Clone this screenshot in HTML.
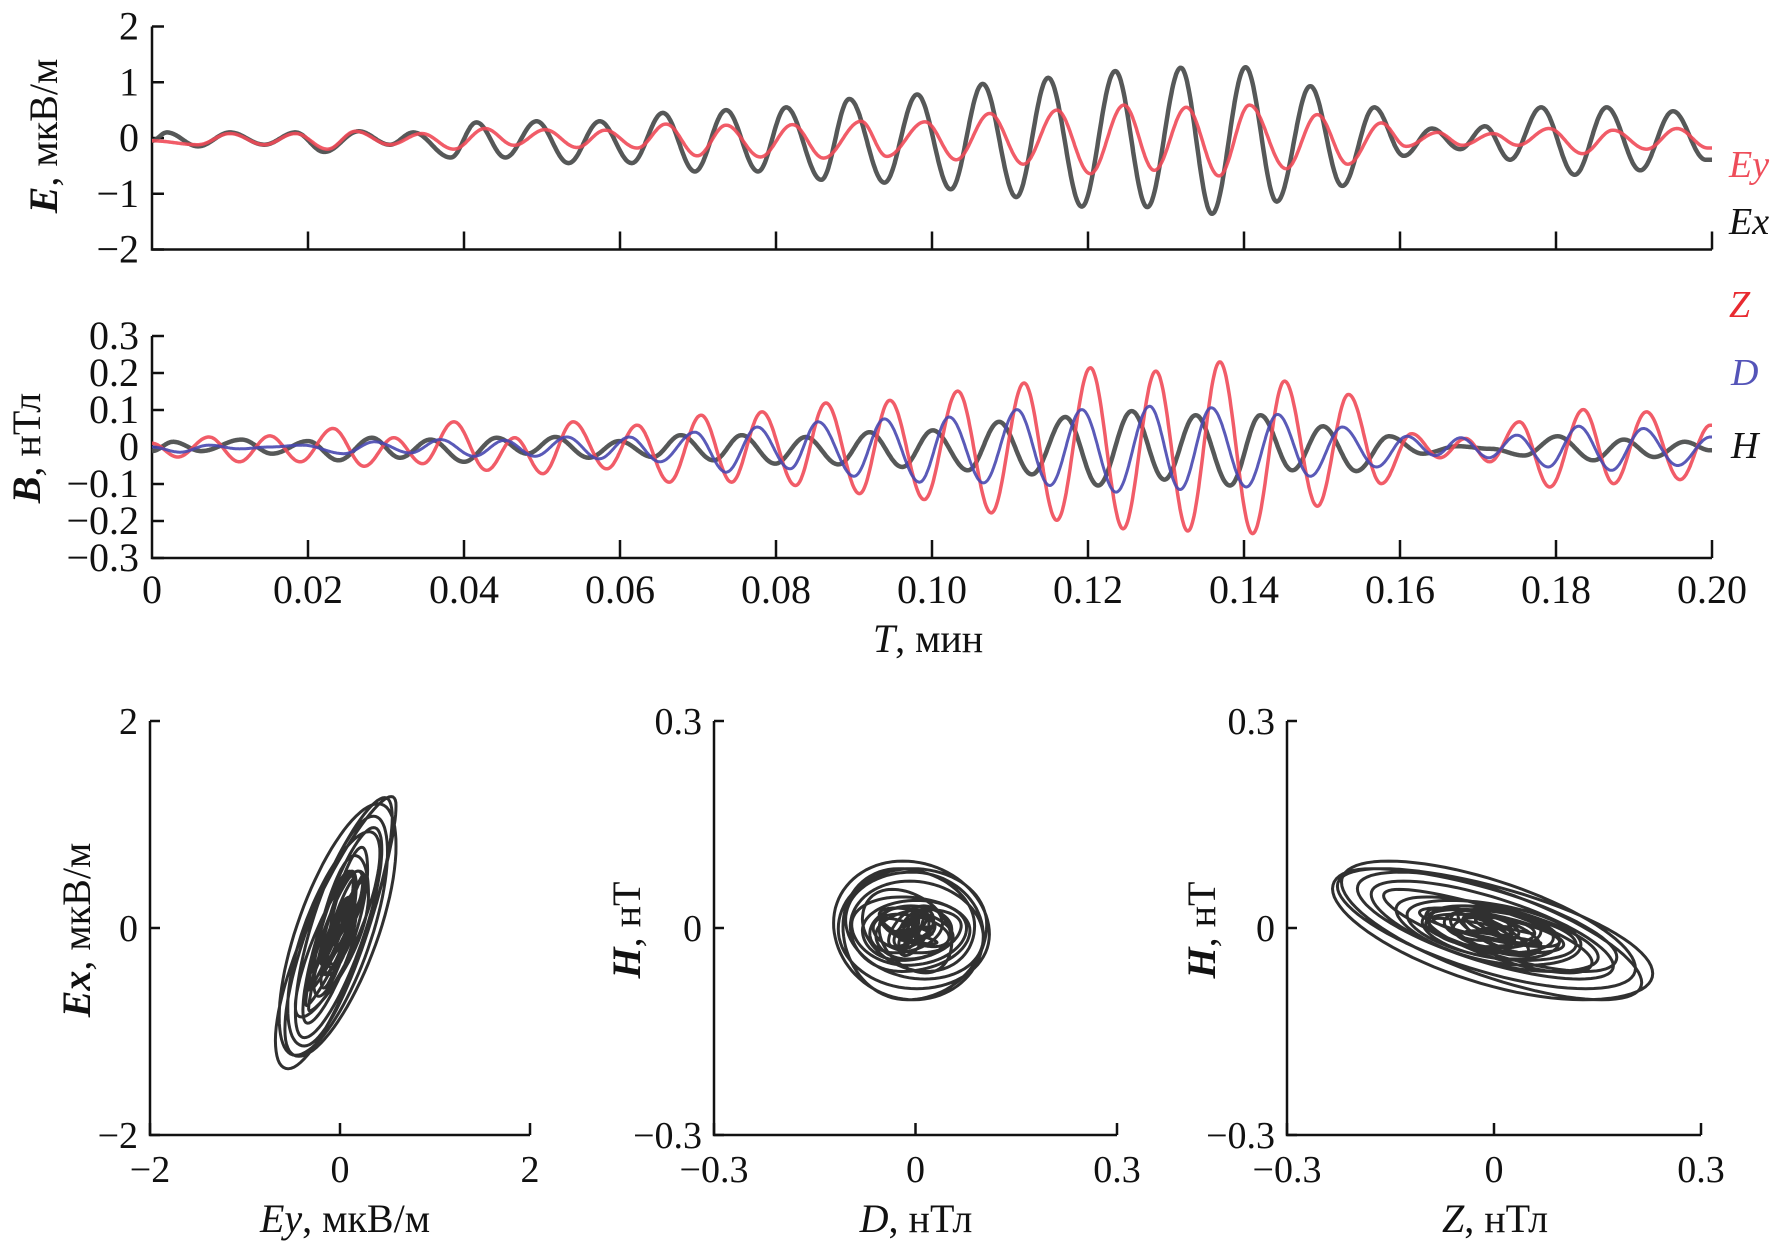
<!DOCTYPE html>
<html><head><meta charset="utf-8">
<style>
html,body{margin:0;padding:0;background:#fff;}
svg{display:block;}
svg text{font-family:"Liberation Serif","DejaVu Serif","Noto Serif CJK SC",serif;fill:#111;}
</style></head>
<body>
<svg id="chart" width="1778" height="1246" viewBox="0 0 1778 1246" xmlns="http://www.w3.org/2000/svg" font-family="Liberation Serif, DejaVu Serif, serif">
<rect x="0" y="0" width="1778" height="1246" fill="#fff"/>
<g id="axes"></g>
<g id="series"></g>
<g id="labels" font-family="Liberation Serif, DejaVu Serif, serif">
  <text transform="translate(57,136) rotate(-90)" text-anchor="middle" font-size="40"><tspan font-style="italic" font-weight="bold">E</tspan>, мкВ/м</text>
  <text transform="translate(40,448) rotate(-90)" text-anchor="middle" font-size="40"><tspan font-style="italic" font-weight="bold">B</tspan>, нТл</text>
  <text x="928" y="652" text-anchor="middle" font-size="40"><tspan font-style="italic">T</tspan>, мин</text>
  <text x="1729" y="177" font-size="38" font-style="italic" style="fill:#ee4d5a">Ey</text>
  <text x="1729" y="234" font-size="38" font-style="italic">Ex</text>
  <text x="1729" y="317" font-size="38" font-style="italic" style="fill:#e82a30">Z</text>
  <text x="1731" y="385" font-size="38" font-style="italic" style="fill:#5454b8">D</text>
  <text x="1731" y="458" font-size="38" font-style="italic">H</text>
  <text transform="translate(90,930) rotate(-90)" text-anchor="middle" font-size="40"><tspan font-style="italic" font-weight="bold">Ex</tspan>, мкВ/м</text>
  <text transform="translate(640,930) rotate(-90)" text-anchor="middle" font-size="40"><tspan font-style="italic" font-weight="bold">H</tspan>, нТ</text>
  <text transform="translate(1215,930) rotate(-90)" text-anchor="middle" font-size="40"><tspan font-style="italic" font-weight="bold">H</tspan>, нТ</text>
  <text x="345" y="1232" text-anchor="middle" font-size="40"><tspan font-style="italic">Ey</tspan>, мкВ/м</text>
  <text x="916" y="1232" text-anchor="middle" font-size="40"><tspan font-style="italic">D</tspan>, нТл</text>
  <text x="1495" y="1232" text-anchor="middle" font-size="40"><tspan font-style="italic">Z</tspan>, нТл</text>
</g>
</svg>
<script>
const exT=[0,.0019,.0059,.0100,.0144,.0184,.0221,.0265,.0305,.0335,.0383,.0416,.0453,.0493,.0534,.0574,.0615,.0655,.0696,.0736,.0777,.0813,.0858,.0894,.0939,.0981,.1024,.1065,.1108,.1149,.1192,.1235,.1276,.1319,.1359,.1402,.1442,.1485,.1526,.1567,.1605,.1641,.1677,.1709,.1741,.1781,.1824,.1865,.1908,.1950,.1992];
const exV=[-0.05,0.1,-0.15,0.1,-0.12,0.1,-0.25,0.12,-0.12,0.1,-0.35,0.28,-0.35,0.3,-0.45,0.3,-0.45,0.45,-0.6,0.5,-0.6,0.55,-0.75,0.7,-0.8,0.78,-0.92,0.97,-1.06,1.08,-1.23,1.2,-1.24,1.26,-1.36,1.27,-1.14,0.93,-0.86,0.55,-0.32,0.17,-0.2,0.21,-0.39,0.55,-0.66,0.55,-0.58,0.48,-0.39];
const eyT=[0,.0059,.0100,.0144,.0184,.0225,.0261,.0305,.0346,.0387,.0427,.0464,.0504,.0545,.0581,.0622,.0659,.0699,.0736,.0780,.0821,.0861,.0909,.0942,.0991,.1031,.1074,.1117,.1160,.1203,.1246,.1285,.1326,.1368,.1407,.1454,.1494,.1533,.1576,.1608,.1648,.1680,.1719,.1751,.1791,.1834,.1873,.1916,.1955,.1995];
const eyV=[-0.05,-0.12,0.08,-0.12,0.08,-0.2,0.12,-0.12,0.08,-0.2,0.17,-0.13,0.15,-0.17,0.14,-0.18,0.25,-0.32,0.23,-0.34,0.24,-0.36,0.3,-0.33,0.29,-0.39,0.44,-0.47,0.5,-0.64,0.59,-0.58,0.55,-0.68,0.59,-0.55,0.42,-0.47,0.27,-0.15,0.1,-0.13,0.08,-0.13,0.17,-0.28,0.14,-0.2,0.17,-0.18];
const zT=[0,.0033,.0073,.0112,.0151,.0190,.0232,.0272,.0310,.0347,.0387,.0429,.0465,.0501,.0540,.0583,.0622,.0663,.0704,.0743,.0782,.0825,.0864,.0907,.0946,.0990,.1033,.1076,.1118,.1160,.1203,.1245,.1287,.1328,.1369,.1411,.1452,.1494,.1534,.1576,.1615,.1651,.1684,.1715,.1753,.1792,.1835,.1874,.1916,.1959,.1998];
const zV=[0.01,-0.027,0.027,-0.04,0.03,-0.04,0.05,-0.052,0.025,-0.045,0.068,-0.063,0.025,-0.072,0.068,-0.059,0.059,-0.095,0.086,-0.095,0.095,-0.104,0.119,-0.126,0.126,-0.142,0.151,-0.178,0.173,-0.198,0.214,-0.221,0.205,-0.227,0.23,-0.234,0.178,-0.16,0.142,-0.099,0.036,-0.029,0.023,-0.04,0.068,-0.108,0.101,-0.099,0.095,-0.088,0.059];
const dT=[0,.0036,.0073,.0112,.0151,.0193,.0246,.0285,.0331,.0370,.0413,.0452,.0491,.0532,.0573,.0612,.0651,.0696,.0736,.0776,.0818,.0854,.0900,.0939,.0984,.1022,.1066,.1109,.1151,.1192,.1236,.1279,.1318,.1358,.1403,.1443,.1485,.1526,.1570,.1609,.1645,.1678,.1714,.1750,.1790,.1829,.1871,.1912,.1956,.1998];
const dV=[0,-0.014,0.005,-0.005,0,0.005,-0.018,0.014,-0.016,0.02,-0.025,0.018,-0.025,0.027,-0.032,0.027,-0.04,0.04,-0.068,0.054,-0.059,0.068,-0.079,0.076,-0.095,0.081,-0.097,0.101,-0.104,0.101,-0.122,0.11,-0.115,0.106,-0.108,0.088,-0.079,0.054,-0.054,0.029,-0.023,0.025,-0.029,0.032,-0.054,0.056,-0.063,0.05,-0.05,0.027];
const hT=[0,.0027,.0063,.0115,.0154,.0200,.0239,.0282,.0318,.0357,.0400,.0442,.0481,.0517,.0560,.0599,.0642,.0678,.0720,.0756,.0799,.0838,.0880,.0920,.0962,.1001,.1046,.1086,.1128,.1171,.1213,.1256,.1298,.1338,.1382,.1421,.1462,.1501,.1544,.1586,.1629,.1674,.1717,.1759,.1802,.1848,.1887,.1926,.1965,.1998];
const hV=[-0.011,0.014,-0.011,0.02,-0.018,0.016,-0.036,0.025,-0.029,0.02,-0.04,0.025,-0.018,0.027,-0.029,0.016,-0.027,0.032,-0.036,0.032,-0.045,0.027,-0.047,0.04,-0.054,0.045,-0.063,0.068,-0.074,0.081,-0.104,0.097,-0.088,0.086,-0.104,0.086,-0.063,0.056,-0.065,0.029,-0.018,0.002,-0.005,-0.023,0.029,-0.036,0.02,-0.027,0.014,-0.009];
const timeTicks=[0,0.02,0.04,0.06,0.08,0.10,0.12,0.14,0.16,0.18,0.20];
const timeTickLabels=["0","0.02","0.04","0.06","0.08","0.10","0.12","0.14","0.16","0.18","0.20"];
const eTicks=[2,1,0,-1,-2];
const eTickLabels=["2","1","0","\u22121","\u22122"];
const bTicks=[0.3,0.2,0.1,0,-0.1,-0.2,-0.3];
const bTickLabels=["0.3","0.2","0.1","0","\u22120.1","\u22120.2","\u22120.3"];
const exyTicks=[-2,0,2];
const exyTickLabels=["\u22122","0","2"];
const magTicks=[-0.3,0,0.3];
const magTickLabels=["\u22120.3","0","0.3"];

const NS="http://www.w3.org/2000/svg";
const FONT="Liberation Serif, DejaVu Serif, serif";
const axesG=document.getElementById('axes');
const serG=document.getElementById('series');
function mk(tag,attrs,parent){const e=document.createElementNS(NS,tag);for(const k in attrs)e.setAttribute(k,attrs[k]);if(tag==='text')e.setAttribute('font-family',FONT);parent.appendChild(e);return e;}
function interp(T,V,t){
  if(t<=T[0])return V[0];
  if(t>=T[T.length-1])return V[V.length-1];
  let i=0;while(i<T.length-2&&T[i+1]<t)i++;
  const u=(t-T[i])/(T[i+1]-T[i]);
  return V[i]+(V[i+1]-V[i])*(1-Math.cos(Math.PI*u))/2;
}
const tx=t=>152+(t-0)/(0.2)*1560;
const eY=v=>26.5+(2-v)/4*223;
const bY=v=>336+(0.3-v)/0.6*222;

function timePanel(yFn,top,bottom,ticks,labels,name){
  const ax=mk('path',{d:`M152 ${top}V${bottom}H1712`,stroke:'#111','stroke-width':2.5,fill:'none'},axesG);
  
  
  ticks.forEach((v,i)=>{
    const y=yFn(v);
    const tk=mk('line',{x1:152,x2:164,y1:y,y2:y,stroke:'#111','stroke-width':2.5},axesG);
    
    
    const tl=mk('text',{x:139,y:y+13,'text-anchor':'end','font-size':40},axesG);
    tl.textContent=labels[i];
    
    
  });
  timeTicks.forEach((t,i)=>{
    if(i===0)return;
    const x=tx(t);
    const tk=mk('line',{x1:x,x2:x,y1:bottom,y2:bottom-18,stroke:'#111','stroke-width':2.5},axesG);
    
    
  });
}
timePanel(eY,26.5,249.5,eTicks,eTickLabels,'e-panel');
timePanel(bY,336,558,bTicks,bTickLabels,'b-panel');
timeTicks.forEach((t,i)=>{
  const tl=mk('text',{x:tx(t),y:603,'text-anchor':'middle','font-size':40},axesG);
  tl.textContent=timeTickLabels[i];
  
  
});

function drawSeries(T,V,yFn,color,w,name,op){
  let d='';
  for(let t=0;t<=0.2000001;t+=0.0001){d+=(d?'L':'M')+tx(t).toFixed(1)+' '+yFn(interp(T,V,t)).toFixed(1);}
  const p=mk('path',{d:d,stroke:color,'stroke-width':w,fill:'none','stroke-linejoin':'round','stroke-opacity':op},serG);
  
  
}
drawSeries(exT,exV,eY,'#4d4f4f',4.5,'ex-line',0.95);
drawSeries(eyT,eyV,eY,'#f04a58',3.5,'ey-line',0.9);
drawSeries(hT,hV,bY,'#4d4f4f',4.5,'h-line',0.95);
drawSeries(zT,zV,bY,'#f04a58',3.5,'z-line',0.9);
drawSeries(dT,dV,bY,'#4848b0',3,'d-line',0.9);

function hodo(left,right,xr,yr,xticks,xlabels,ylabels,XT,XV,YT,YV,name){
  const top=721,bottom=1135;
  const sx=v=>left+(v+xr)/(2*xr)*(right-left);
  const sy=v=>top+(yr-v)/(2*yr)*(bottom-top);
  const ax=mk('path',{d:`M${left} ${top}V${bottom}H${right}`,stroke:'#111','stroke-width':2.5,fill:'none'},axesG);
  
  
  [yr,0,-yr].forEach((v,i)=>{
    const y=sy(v);
    const tk=mk('line',{x1:left,x2:left+10,y1:y,y2:y,stroke:'#111','stroke-width':2.5},axesG);
    
    
    const tl=mk('text',{x:left-12,y:y+13,'text-anchor':'end','font-size':38},axesG);
    tl.textContent=ylabels[i];
    
    
  });
  xticks.forEach((v,i)=>{
    const x=sx(v);
    const tk=mk('line',{x1:x,x2:x,y1:bottom,y2:bottom-12,stroke:'#111','stroke-width':2.5},axesG);
    
    
    const tl=mk('text',{x:x,y:1182,'text-anchor':'middle','font-size':38},axesG);
    tl.textContent=xlabels[i];
    
    
  });
  let d='';
  for(let t=0;t<=0.2000001;t+=0.0001){d+=(d?'L':'M')+sx(interp(XT,XV,t)).toFixed(1)+' '+sy(interp(YT,YV,t)).toFixed(1);}
  const p=mk('path',{d:d,stroke:'#1a1a1a','stroke-width':3,fill:'none','stroke-linejoin':'round','stroke-opacity':0.9},serG);
  
  
}
hodo(150,530,2,2,exyTicks,exyTickLabels,["2","0","\u22122"],eyT,eyV,exT,exV,'ex-vs-ey');
hodo(714,1117,0.3,0.3,magTicks,magTickLabels,["0.3","0","\u22120.3"],dT,dV,hT,hV,'h-vs-d');
hodo(1287,1701,0.3,0.3,magTicks,magTickLabels,["0.3","0","\u22120.3"],zT,zV,hT,hV,'h-vs-z');
</script>
</body></html>
